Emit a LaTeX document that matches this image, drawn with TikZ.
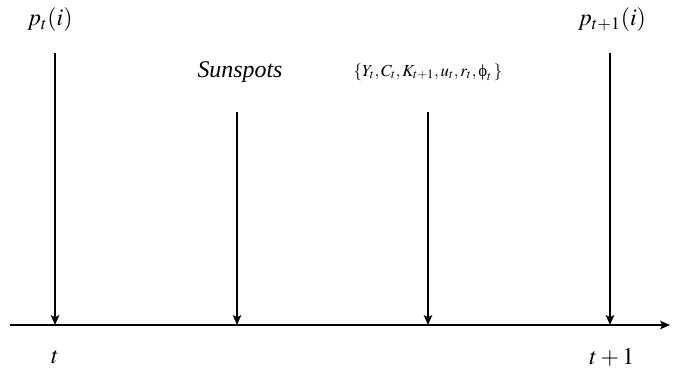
\documentclass[tikz,border=0pt]{standalone}
\usepackage{mathptmx}
\usepackage[no-math]{fontspec}
\setmainfont{Liberation Serif}
\usetikzlibrary{
  arrows.meta,              % Stealth 箭头
  positioning               % 节点相对定位
}
\tikzset{
  time arrow/.style={
    -{Stealth[length=7pt,width=6pt,inset=1.5pt]},
    line width=1.3pt,
    color=black
  },
  axis line/.style={
    -{Stealth[length=7pt,width=6pt,inset=1.5pt]},
    line width=1.3pt
  },
  event label/.style={
    font=\fontsize{17}{20}\selectfont,
    inner sep=1pt
  },
  small label/.style={
    font=\fontsize{12}{14}\selectfont,
    inner sep=1pt
  }
}

\begin{document}
\begin{tikzpicture}
    % 固定画面边界（与原图比例一致）
    \useasboundingbox (0, 0) rectangle (16.825, -9.375);

    % 时间轴
    \coordinate (axisL) at (0.25, -8.125);
    \coordinate (axisR) at (16.75, -8.125);
    \draw[axis line] (axisL) -- (axisR);

    % 轴上的四个时点
    \coordinate (tA) at (1.375, -8.125);
    \coordinate (tB) at (5.925, -8.125);
    \coordinate (tC) at (10.7, -8.125);
    \coordinate (tD) at (15.25, -8.125);

    % 竖直箭头的起点
    \coordinate (sA) at (1.375, -1.325);
    \coordinate (sB) at (5.925, -2.8);
    \coordinate (sC) at (10.7, -2.8);
    \coordinate (sD) at (15.25, -1.325);

    \draw[time arrow] (sA) -- (tA);
    \draw[time arrow] (sB) -- (tB);
    \draw[time arrow] (sC) -- (tC);
    \draw[time arrow] (sD) -- (tD);

    % 上方标注
    \node[event label] (price0) at (1.25, -0.5) {$p_t(i)$};
    \node[event label] (spots) at (6.0, -1.8) {\textit{Sunspots}};
    \node[small label] (vars) at (10.7, -1.8) {$\{Y_t, C_t, K_{t+1}, u_t, r_t, \mbox{ϕ}_t\,\}$};
    \node[event label] (price1) at (15.3, -0.5) {$p_{t+1}(i)$};

    % 下方时间标注
    \node[event label] (timeA) at (1.375, -8.925) {$t$};
    \node[event label] (timeB) at (15.3, -8.925) {$t+1$};

  \end{tikzpicture}
\end{document}
